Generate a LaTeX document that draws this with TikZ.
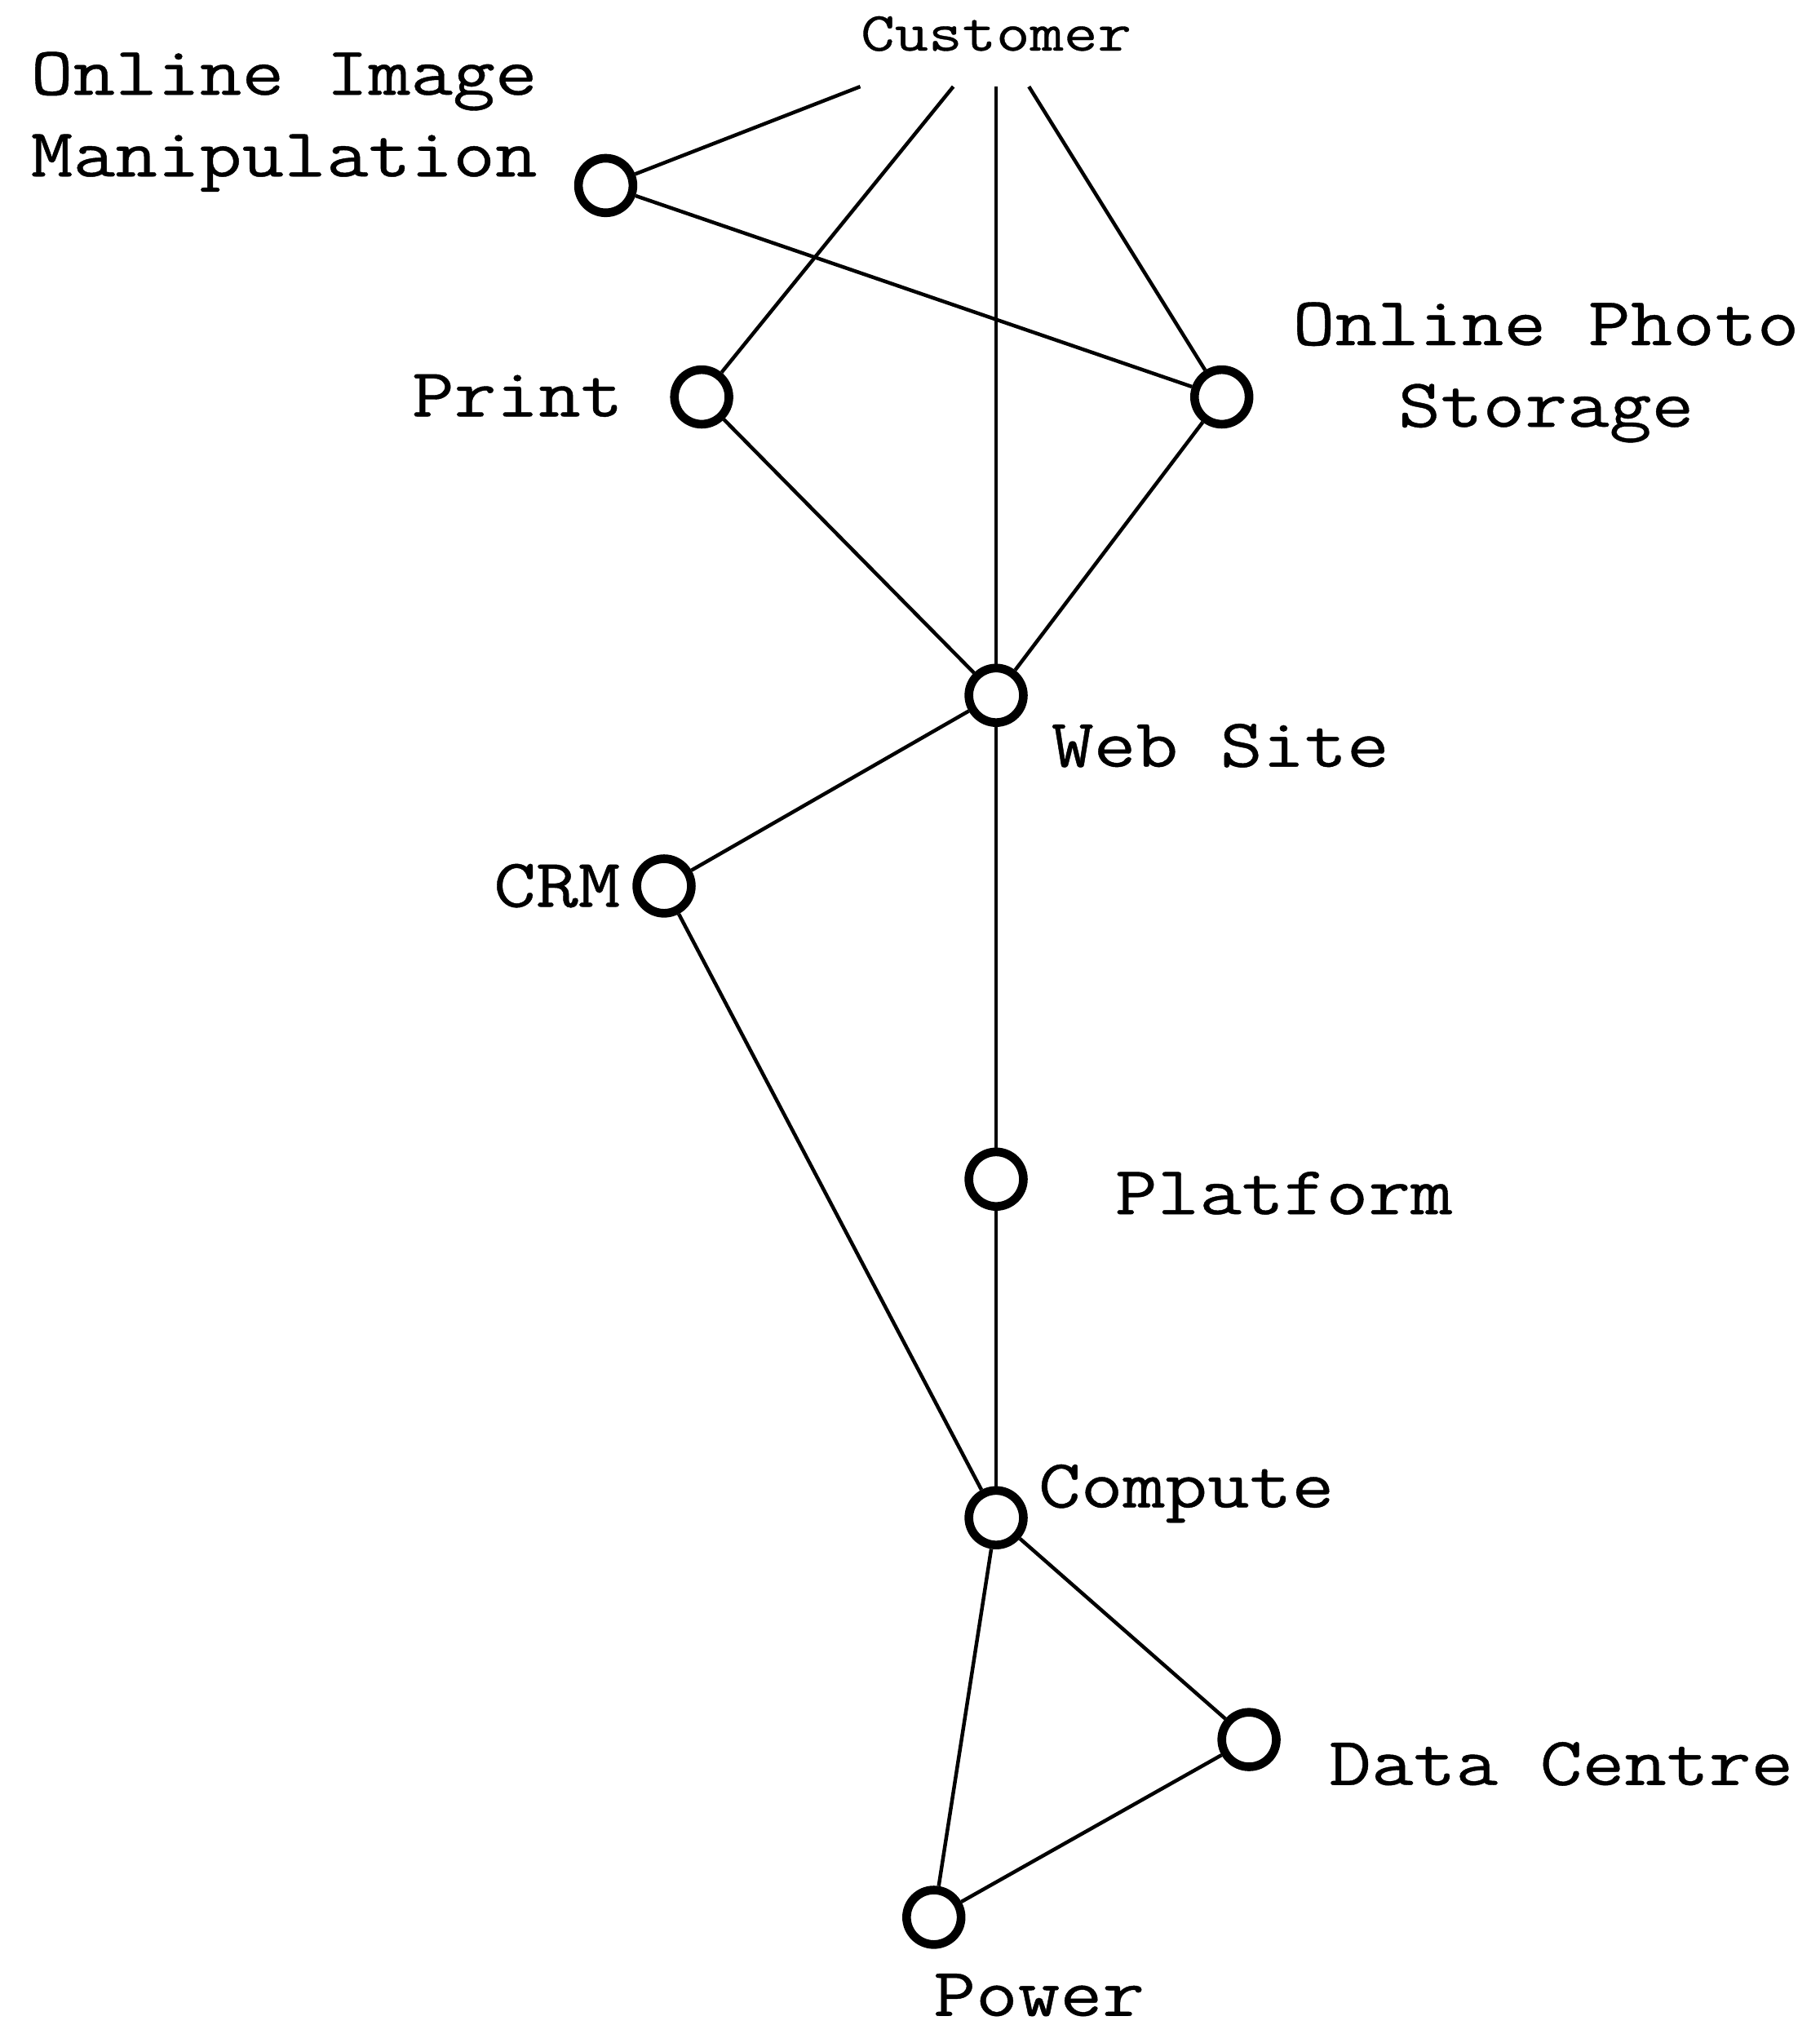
\documentclass[tikz,border=0pt]{standalone}
\usepackage{fontspec}
\newfontfamily\diagfont[FakeStretch=1.19, FakeBold=0.5]{Latin Modern Mono}
\usetikzlibrary{positioning}
\tikzset{
  hub/.style={circle, draw, line width=1.9pt, fill=white, minimum size=0.42cm, inner sep=0pt},
  link/.style={line width=0.8pt},
  tag/.style={font=\diagfont\fontsize{15.1}{17.9}\selectfont, inner sep=0pt},
}

\begin{document}
\begin{tikzpicture}[x=0.01cm, y=-0.01cm]
\useasboundingbox (0,0) rectangle (1403,1568);

% Top of the chain
\node[font=\diagfont\fontsize{12.1}{14}\selectfont, minimum height=0.8cm, inner xsep=2pt] (customer) at (768,26) {Customer};

% Components
\node[hub] (oim) at (467,143) {};
\node[hub] (print) at (541,306) {};
\node[hub] (ops) at (942,306) {};
\node[hub] (web) at (768,536) {};
\node[hub] (crm) at (512,683) {};
\node[hub] (platform) at (768,909) {};
\node[hub] (compute) at (768,1170) {};
\node[hub] (dc) at (963,1341) {};
\node[hub] (power) at (720,1478) {};

% Labels
\node[tag, align=left, anchor=base east] (oimlbl) at (415,136) {Online Image\\Manipulation};
\node[tag, anchor=base east] (printlbl) at (481,321) {Print};
\node[tag, align=center, anchor=base] (opslbl) at (1192,329) {Online Photo\\Storage};
\node[tag, anchor=base west] (weblbl) at (810,591) {Web Site};
\node[tag, anchor=base east] (crmlbl) at (479,699) {CRM};
\node[tag, anchor=base west] (platformlbl) at (859,936) {Platform};
\node[tag, anchor=base west] (computelbl) at (800,1162) {Compute};
\node[tag, anchor=base west] (dclbl) at (1024,1376) {Data Centre};
\node[tag, anchor=base west] (powerlbl) at (719,1554) {Power};

% Links
\draw[link] (customer) -- (oim);
\draw[link] (customer) -- (print);
\draw[link] (customer) -- (web);
\draw[link] (customer) -- (ops);
\draw[link] (oim) -- (ops);
\draw[link] (print) -- (web);
\draw[link] (ops) -- (web);
\draw[link] (web) -- (crm);
\draw[link] (web) -- (platform);
\draw[link] (crm) -- (compute);
\draw[link] (platform) -- (compute);
\draw[link] (compute) -- (dc);
\draw[link] (compute) -- (power);
\draw[link] (dc) -- (power);

\end{tikzpicture}
\end{document}
